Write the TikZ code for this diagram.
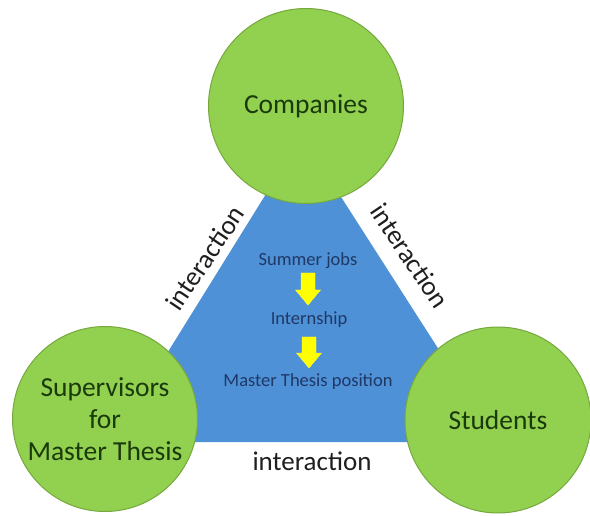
\documentclass[tikz,border=0pt]{standalone}
\usepackage{fontspec}
\setmainfont{Carlito}
\definecolor{circfill}{HTML}{92D050}
\definecolor{circline}{HTML}{76A83E}
\definecolor{triblue}{HTML}{4F91D6}
\definecolor{circtext}{HTML}{1B3A0C}
\definecolor{innertext}{HTML}{1F3866}
\definecolor{arrowyel}{HTML}{FFFF00}
\tikzset{
  party/.style={circle, fill=circfill, draw=circline, line width=1pt, inner sep=0pt,
    text=circtext, align=center, font=\fontsize{27.5}{32}\selectfont},
  linklabel/.style={text=black!88, font=\fontsize{27}{32}\selectfont, inner sep=0pt},
  stagelabel/.style={text=innertext, font=\fontsize{18.5}{22}\selectfont, inner sep=0pt},
  blockarrow/.style={fill=arrowyel, draw=arrowyel!80!white, line width=0.4pt}
}
\begin{document}
\begin{tikzpicture}[x=1pt,y=-1pt]
\useasboundingbox (0,0) rectangle (590,516);
\fill[white] (0,0) rectangle (590,516);
% triangle
\coordinate (tA) at (302,136);
\coordinate (tB) at (112,442);
\coordinate (tC) at (498,442);
\fill[triblue] (tA) -- (tB) -- (tC) -- cycle;
% circles
\node[party, minimum size=195pt] (comp) at (306,106) {Companies};
\node[party, minimum size=185pt] (sup) at (105,419) {Supervisors\\for\\Master Thesis};
\node[party, minimum size=186pt] (stud) at (498,420) {Students};
% interaction labels
\node[linklabel, rotate=56] (il) at (205,258) {interaction};
\node[linklabel, rotate=-56] (ir) at (410,256) {interaction};
\node[linklabel] (ib) at (312,461) {interaction};
% stages
\node[stagelabel] (s1) at (308,261) {Summer jobs};
\node[stagelabel] (s2) at (309,320) {Internship};
\node[stagelabel] (s3) at (308,382) {Master Thesis position};
% arrows
\coordinate (a1) at (308,273);
\coordinate (a2) at (309,337);
\fill[blockarrow] (a1) ++(-7,0) -- ++(14,0) -- ++(0,17) -- ++(5.5,0) -- ++(-12.5,15) -- ++(-12.5,-15) -- ++(5.5,0) -- cycle;
\fill[blockarrow] (a2) ++(-7,0) -- ++(14,0) -- ++(0,16) -- ++(5.5,0) -- ++(-12.5,15) -- ++(-12.5,-15) -- ++(5.5,0) -- cycle;
\end{tikzpicture}
\end{document}
